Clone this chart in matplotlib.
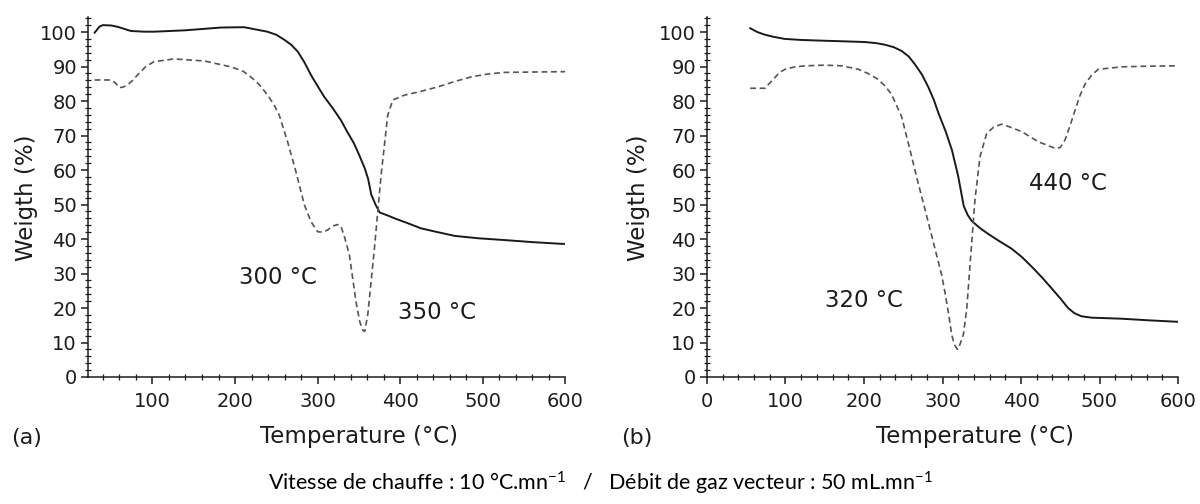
import matplotlib
matplotlib.use("Agg")
import matplotlib.pyplot as plt
from matplotlib.ticker import MultipleLocator

plt.rcParams["font.family"] = ["DejaVu Sans"]

# (a) TGA / DTG curves
A_TGA_T = [30, 36, 40, 50, 58, 66, 74, 90, 102, 140, 183, 211, 239, 250, 260, 268, 276,
           284, 292, 300, 308, 318, 328, 336, 344, 350, 357, 361, 365, 370, 375, 385,
           393, 410, 425, 445, 466, 495, 526, 560, 595, 600]
A_TGA_W = [99.8, 101.6, 102.0, 101.9, 101.5, 100.9, 100.3, 100.1, 100.1, 100.5, 101.3,
           101.4, 100.1, 99.2, 97.7, 96.3, 94.3, 91.2, 87.5, 84.3, 81.2, 78.0, 74.5,
           71.0, 67.7, 64.5, 60.5, 57.5, 52.8, 50.0, 47.7, 46.8, 46.0, 44.5, 43.1,
           42.0, 40.9, 40.2, 39.7, 39.1, 38.6, 38.6]

A_DTG_T = [30, 49.5, 55, 59.6, 64, 69.7, 76, 81.8, 92, 102, 126, 163, 195, 210, 219, 230,
           239.4, 247, 253.5, 263.6, 273.7, 283.9, 292, 300, 306, 312, 318, 324, 328,
           332, 338.4, 346.4, 351, 354.5, 357, 360.6, 364, 368.7, 376.8, 384.8, 391,
           405, 425, 445.5, 465, 485.8, 505, 526, 560, 595, 600]
A_DTG_W = [86.1, 86.1, 85.3, 83.9, 84.0, 84.6, 86.0, 87.5, 90.0, 91.4, 92.2, 91.6, 89.9,
           88.6, 87.0, 84.6, 81.7, 79.0, 75.9, 68.2, 59.5, 49.9, 45.0, 42.1, 42.0,
           42.6, 43.7, 44.2, 43.8, 41.0, 35.4, 21.8, 16.0, 13.6, 13.2, 18.0, 26.0,
           37.3, 58.5, 75.9, 80.3, 81.7, 82.8, 84.1, 85.6, 87.0, 87.8, 88.3, 88.4,
           88.5, 88.5]

# (b) TGA / DTG curves
B_TGA_T = [55, 64, 74, 85, 99, 120, 146, 175, 201, 215, 227, 238, 248, 257, 265, 274,
           282, 289, 295, 304, 312, 320, 327, 332, 337, 347, 358, 373, 388, 401, 414,
           427, 439, 450, 460, 468, 477, 490, 528, 565, 600]
B_TGA_W = [101.1, 100.0, 99.2, 98.6, 98.0, 97.7, 97.5, 97.3, 97.1, 96.8, 96.3, 95.6,
           94.5, 92.9, 90.6, 87.6, 84.0, 80.3, 76.4, 71.2, 65.8, 58.2, 49.6, 47.0,
           45.3, 43.3, 41.5, 39.3, 37.2, 34.8, 31.9, 28.8, 25.7, 22.8, 20.0, 18.5,
           17.6, 17.2, 16.9, 16.4, 16.0]

B_DTG_T = [55, 74, 79, 84.5, 92, 99.4, 112, 124.8, 150, 171.6, 192.7, 205, 218, 227, 235,
           248, 258.6, 269, 277.7, 290.4, 299, 303, 308, 311.7, 315, 318.9, 322, 326.6,
           331, 335, 341.4, 347.8, 356.3, 365, 375.4, 388, 401, 422, 443.3, 450, 456,
           462, 468.8, 475, 481.5, 490, 498.5, 528, 560, 600]
B_DTG_W = [83.7, 83.7, 85.0, 86.3, 88.2, 89.2, 89.9, 90.2, 90.4, 90.2, 89.2, 88.0, 86.3,
           84.3, 82.0, 75.4, 65.8, 56.2, 48.6, 37.2, 29.5, 24.7, 18.0, 12.3, 9.5, 8.0,
           9.3, 12.3, 20.0, 32.4, 51.5, 63.9, 70.6, 72.4, 73.3, 72.3, 71.1, 68.2,
           66.3, 66.5, 68.7, 72.5, 77.3, 81.5, 84.9, 87.5, 89.2, 89.9, 90.1, 90.2]

A_NOTES = [("300 °C", 252, 28.7), ("350 °C", 445, 18.6)]
B_NOTES = [("320 °C", 200, 22.3), ("440 °C", 460, 56.2)]

TEXT_COLOR = "#1c1c1c"
SOLID_COLOR = "#1a1a1a"
DASH_COLOR = "#555555"


def style_axes(ax, xmin, xticks):
    ax.set_xlim(xmin, 600)
    ax.set_ylim(0, 104.5)
    ax.set_xticks(xticks)
    ax.set_yticks(range(0, 101, 10))
    ax.xaxis.set_minor_locator(MultipleLocator(20))
    ax.yaxis.set_minor_locator(MultipleLocator(2))
    for side in ("top", "right"):
        ax.spines[side].set_visible(False)
    for side in ("left", "bottom"):
        ax.spines[side].set_linewidth(1.1)
        ax.spines[side].set_color(TEXT_COLOR)
    ax.tick_params(which="major", direction="out", length=5, width=1.1,
                   labelsize=14, colors=TEXT_COLOR, pad=3)
    ax.tick_params(axis="x", which="major", pad=6)
    ax.tick_params(which="minor", direction="inout", length=4, width=0.9,
                   colors=TEXT_COLOR)


def draw_panel(ax, tga_t, tga_w, dtg_t, dtg_w, notes):
    ax.plot(tga_t, tga_w, color=SOLID_COLOR, lw=1.4)
    ax.plot(dtg_t, dtg_w, color=DASH_COLOR, lw=1.2, dashes=(3.5, 2.2))
    for text, x, y in notes:
        ax.text(x, y, text, ha="center", va="center", fontsize=16.5, color=TEXT_COLOR)


fig = plt.figure(figsize=(12, 5.04), dpi=100)
ax_a = fig.add_axes([88 / 1200, 1 - 377 / 504, (565.5 - 88) / 1200, (377 - 16.5) / 504])
ax_b = fig.add_axes([707 / 1200, 1 - 377 / 504, (1178 - 707) / 1200, (377 - 16.5) / 504])

draw_panel(ax_a, A_TGA_T, A_TGA_W, A_DTG_T, A_DTG_W, A_NOTES)
draw_panel(ax_b, B_TGA_T, B_TGA_W, B_DTG_T, B_DTG_W, B_NOTES)
style_axes(ax_a, 22, [100, 200, 300, 400, 500, 600])
style_axes(ax_b, 0, [0, 100, 200, 300, 400, 500, 600])

for x in (27, 639):
    fig.text(x / 1200, 1 - 198 / 504, "Weigth (%)", rotation=90, ha="center",
             va="center", fontsize=16.5, color=TEXT_COLOR)
for x in (359, 975):
    fig.text(x / 1200, 1 - 437 / 504, "Temperature (°C)", ha="center", va="center",
             fontsize=16.5, color=TEXT_COLOR)
fig.text(27 / 1200, 1 - 438 / 504, "(a)", ha="center", va="center", fontsize=16,
         color=TEXT_COLOR)
fig.text(637 / 1200, 1 - 438 / 504, "(b)", ha="center", va="center", fontsize=16,
         color=TEXT_COLOR)

fig.text(0.5, 1 - 483 / 504,
         r"Vitesse de chauffe : 10 °C.mn$\mathregular{^{-1}}$   /   Débit de gaz vecteur : 50 mL.mn$\mathregular{^{-1}}$",
         ha="center", va="center", fontsize=15.5, color="#000000",
         family=["Lato", "DejaVu Sans"])

fig.savefig("out.png", dpi=100)
